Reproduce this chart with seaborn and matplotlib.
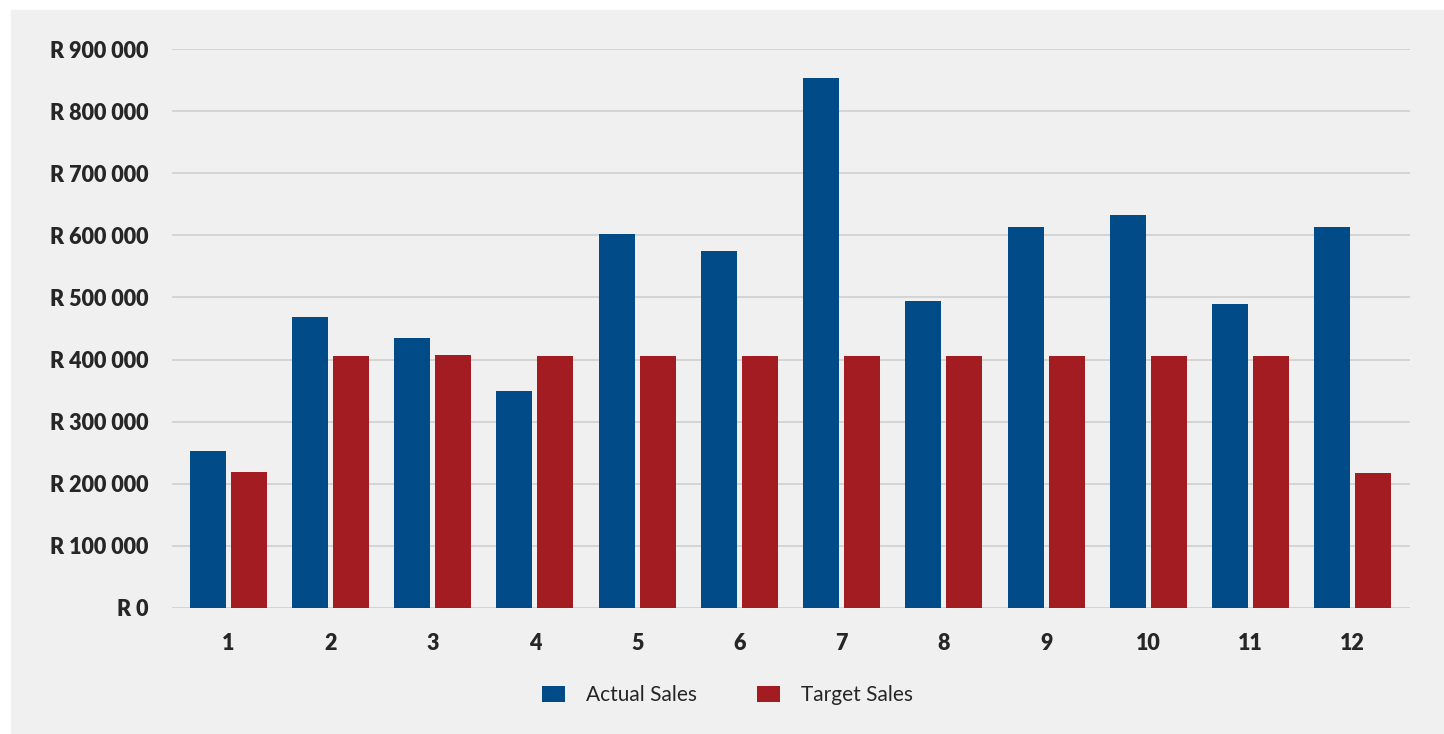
import pandas as pd
import numpy as np
import matplotlib.pyplot as plt
import seaborn as sns
from matplotlib.patches import Rectangle
from matplotlib.ticker import FuncFormatter

# Data
months = [str(i) for i in range(1, 13)]
actual_sales = [253000, 469000, 434000, 350000, 602000, 574000,
                853000, 495000, 613000, 632000, 490000, 613000]
target_sales = [219000, 405000, 408000, 406000, 406000, 406000,
                406000, 406000, 406000, 406000, 406000, 218000]

df = pd.DataFrame({
    'month': months * 2,
    'sales': actual_sales + target_sales,
    'series': ['Actual Sales'] * 12 + ['Target Sales'] * 12,
})

sns.set_style('white')
plt.rcParams['font.family'] = ['Lato', 'DejaVu Sans']

bg = '#f0f0f0'
colors = {'Actual Sales': '#024b89', 'Target Sales': '#a31c22'}

fig = plt.figure(figsize=(14.44, 7.34), dpi=100, facecolor='white')
# grey panel with thin white margin on top and left
fig.patches.append(Rectangle((11 / 1444, 0), 1, 1 - 10 / 734,
                             transform=fig.transFigure, color=bg, zorder=-10))

ax = fig.add_axes([172 / 1444, 1 - 608 / 734, (1410 - 172) / 1444, (608 - 49) / 734])
ax.set_facecolor(bg)

sns.barplot(data=df, x='month', y='sales', hue='series', palette=colors,
            width=0.8, gap=0.12, saturation=1, linewidth=0, ax=ax, legend=True)

ax.set_ylim(0, 900000)
ax.set_xlim(-0.55, 11.56)
ax.set_yticks(np.arange(0, 900001, 100000))
ax.yaxis.set_major_formatter(FuncFormatter(
    lambda v, p: 'R ' + f'{int(v):,}'.replace(',', ' ')))
ax.grid(axis='y', color='#d2d2d2', linewidth=1.3)
ax.set_axisbelow(True)
for s in ax.spines.values():
    s.set_visible(False)
ax.tick_params(axis='both', length=0, labelsize=15.5)
ax.tick_params(axis='y', pad=17)
ax.tick_params(axis='x', pad=18)
for lab in ax.get_xticklabels() + ax.get_yticklabels():
    lab.set_fontweight('heavy')
ax.set_xlabel('')
ax.set_ylabel('')

handles, labels = ax.get_legend_handles_labels()
ax.get_legend().remove()
fig.legend(handles, labels, loc='center', bbox_to_anchor=(0.504, 0.053),
           ncol=2, frameon=False, fontsize=15, handlelength=1.1,
           handleheight=0.8, handletextpad=1.0, columnspacing=2.9)

fig.savefig('out.png', dpi=100, facecolor='white')
